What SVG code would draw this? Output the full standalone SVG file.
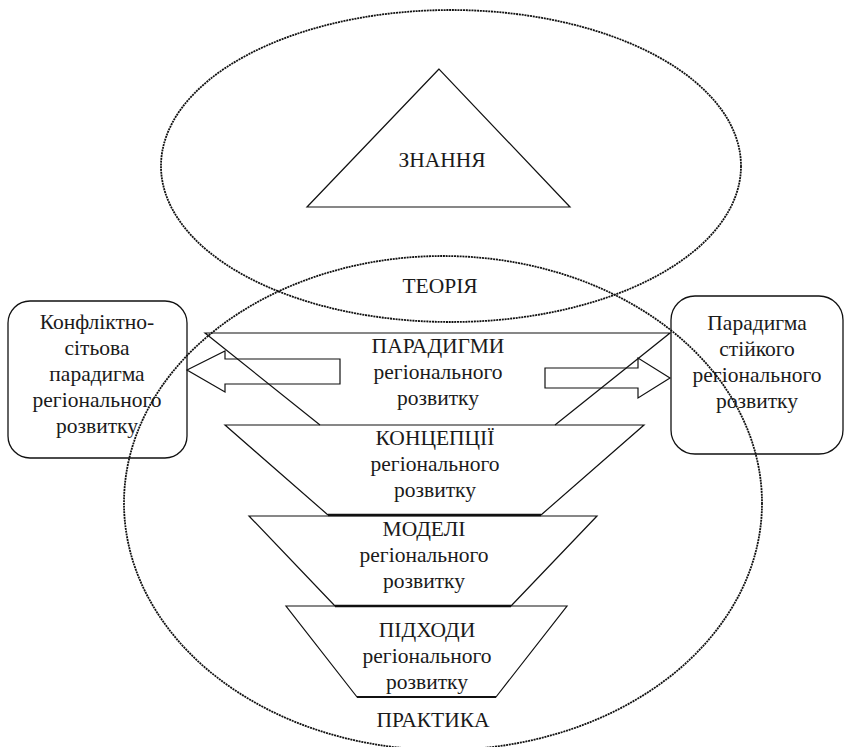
<svg xmlns="http://www.w3.org/2000/svg" width="844" height="747" viewBox="0 0 844 747">
<style>
text{font-family:"Liberation Serif","Tinos","Times New Roman","DejaVu Serif",serif;font-size:21.5px;fill:#1a1a1a;text-anchor:middle}
.dot{fill:none;stroke:#111;stroke-width:1.8;stroke-dasharray:2 0.8}
.ln{fill:none;stroke:#111;stroke-width:1.2}
.thick{fill:none;stroke:#111;stroke-width:2.4}
.box{fill:none;stroke:#111;stroke-width:1.3}
.arr{fill:none;stroke:#111;stroke-width:1.2;stroke-linejoin:miter}
</style>
<rect width="844" height="747" fill="#fff"/>
<g id="znannya-ellipse">
<ellipse class="dot" cx="451" cy="166" rx="290" ry="156"/>
</g>
<g id="teoriya-praktyka-ellipse">
<ellipse class="dot" cx="443" cy="503" rx="319" ry="247"/>
<text x="440" y="293">ТЕОРІЯ</text>
<text x="433" y="727">ПРАКТИКА</text>
</g>
<g id="znannya">
<polygon class="ln" points="439,69 307,207 570,207"/>
<text x="442" y="167">ЗНАННЯ</text>
</g>
<g id="paradygmy">
<polyline class="ln" points="320,425 205,333 670,333 555,425"/>
<text x="438" y="353">ПАРАДИГМИ</text>
<text x="438" y="379">регіонального</text>
<text x="438" y="405">розвитку</text>
</g>
<g id="kontseptsii">
<polyline class="ln" points="328,515 225,425 644,425 541,515"/>
<line class="thick" x1="328" y1="515" x2="541" y2="515"/>
<text x="435" y="445">КОНЦЕПЦІЇ</text>
<text x="435" y="471">регіонального</text>
<text x="435" y="497">розвитку</text>
</g>
<g id="modeli">
<polyline class="ln" points="335,606 249,516 597,516 511,606"/>
<line class="thick" x1="335" y1="606" x2="511" y2="606"/>
<text x="424" y="536">МОДЕЛІ</text>
<text x="424" y="562">регіонального</text>
<text x="424" y="588">розвитку</text>
</g>
<g id="pidkhody">
<polygon class="ln" points="286,606 567,606 496,697 357,697"/>
<line class="thick" x1="357" y1="697" x2="496" y2="697" style="stroke-width:1.8"/>
<text x="427" y="637">ПІДХОДИ</text>
<text x="427" y="663">регіонального</text>
<text x="427" y="689">розвитку</text>
</g>
<g id="konfliktno-paradigm">
<rect class="box" x="8" y="301" width="179" height="157" rx="22" ry="22"/>
<text x="97" y="329">Конфліктно-</text>
<text x="97" y="355">сітьова</text>
<text x="97" y="381">парадигма</text>
<text x="97" y="407">регіонального</text>
<text x="97" y="433">розвитку</text>
</g>
<g id="stiykyi-paradigm">
<rect class="box" x="671" y="296" width="172" height="158" rx="24" ry="24"/>
<text x="757" y="330">Парадигма</text>
<text x="757" y="356">стійкого</text>
<text x="757" y="382">регіонального</text>
<text x="757" y="408">розвитку</text>
</g>
<g id="connectors">
<polygon class="arr" points="187,370 225,351 225,359 340,359 340,384 225,384 225,392"/>
<polygon class="arr" points="545,368 638,368 638,358 670,378 638,398 638,388 545,388"/>
</g>
</svg>
